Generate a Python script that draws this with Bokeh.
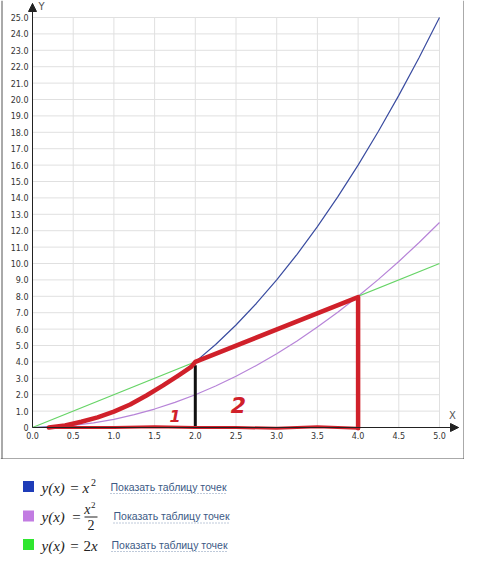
from bokeh.plotting import figure
from bokeh.models import Range1d, FixedTicker, Arrow, NormalHead, Label, Span
from bokeh.layouts import column
from bokeh.embed import file_html
from bokeh.resources import INLINE
from bokeh.core.properties import value

# ---------------- data ----------------
X_TICKS = [0.0, 0.5, 1.0, 1.5, 2.0, 2.5, 3.0, 3.5, 4.0, 4.5, 5.0]
X_TICK_LABELS = ["0.0", "0.5", "1.0", "1.5", "2.0", "2.5", "3.0", "3.5", "4.0", "4.5", "5.0"]
Y_TICKS = [0, 1, 2, 3, 4, 5, 6, 7, 8, 9, 10, 11, 12, 13, 14, 15, 16, 17, 18, 19, 20, 21, 22, 23, 24, 25]
Y_TICK_LABELS = ["0", "1.0", "2.0", "3.0", "4.0", "5.0", "6.0", "7.0", "8.0", "9.0", "10.0",
                 "11.0", "12.0", "13.0", "14.0", "15.0", "16.0", "17.0", "18.0", "19.0", "20.0",
                 "21.0", "22.0", "23.0", "24.0", "25.0"]

CURVE_X = [0.0, 0.25, 0.5, 0.75, 1.0, 1.25, 1.5, 1.75, 2.0, 2.25, 2.5, 2.75, 3.0,
           3.25, 3.5, 3.75, 4.0, 4.25, 4.5, 4.75, 5.0]
SQUARE_Y = [0.0, 0.0625, 0.25, 0.5625, 1.0, 1.5625, 2.25, 3.0625, 4.0, 5.0625, 6.25,
            7.5625, 9.0, 10.5625, 12.25, 14.0625, 16.0, 18.0625, 20.25, 22.5625, 25.0]
HALF_Y = [0.0, 0.03125, 0.125, 0.28125, 0.5, 0.78125, 1.125, 1.53125, 2.0, 2.53125, 3.125,
          3.78125, 4.5, 5.28125, 6.125, 7.03125, 8.0, 9.03125, 10.125, 11.28125, 12.5]
LINE_X = [0.0, 5.0]
LINE_Y = [0.0, 10.0]

# hand-drawn red outline of the two areas
RED_PATH_X = [0.2, 0.4, 0.6, 0.8, 1.0, 1.2, 1.4, 1.6, 1.8, 1.95, 2.0, 4.0, 4.0]
RED_PATH_Y = [0.0, 0.12, 0.35, 0.62, 0.97, 1.4, 1.95, 2.55, 3.2, 3.7, 4.0, 7.95, -0.05]
RED_BASE_X = [4.0, 3.5, 3.0, 2.5, 2.0, 1.5, 1.0, 0.5, 0.2]
RED_BASE_Y = [-0.05, 0.05, -0.05, 0.0, 0.0, 0.05, 0.0, 0.0, 0.0]
BLACK_X = [2.0, 2.0]
BLACK_Y = [0.0, 3.8]
AREA_LABELS = ["1", "2"]
AREA_LABEL_X = [1.75, 2.53]
AREA_LABEL_Y = [0.7, 1.4]

LEGEND_COLORS = ["#1e3cb8", "#c27ce2", "#2fe62f"]
LINK_TEXT = "Показать таблицу точек"

# ---------------- layout constants (pixels) ----------------
CW, CH = 464, 459
X0PX, SX = 32, 81.4
Y0PX, SY = 427, 16.4
x_start = -X0PX / SX
x_end = (CW - X0PX) / SX
y_start = -(CH - Y0PX) / SY
y_end = Y0PX / SY

p = figure(width=CW, height=CH, x_range=Range1d(x_start, x_end), y_range=Range1d(y_start, y_end),
           output_backend="svg", toolbar_location=None, min_border=0)
p.min_border_left = p.min_border_right = p.min_border_top = p.min_border_bottom = 0
p.outline_line_color = None
p.xgrid.visible = False
p.ygrid.visible = False
p.background_fill_color = "white"
p.border_fill_color = "white"

# grid lines from tick lists
p.segment(x0=X_TICKS[1:], y0=[Y_TICKS[0]] * (len(X_TICKS) - 1), x1=X_TICKS[1:],
          y1=[Y_TICKS[-1]] * (len(X_TICKS) - 1), line_color="#e0e0e0", line_width=1)
p.segment(x0=[X_TICKS[0]] * (len(Y_TICKS) - 1), y0=Y_TICKS[1:], x1=[X_TICKS[-1]] * (len(Y_TICKS) - 1),
          y1=Y_TICKS[1:], line_color="#e0e0e0", line_width=1)

for ax, ticks, labels in ((p.xaxis, X_TICKS, X_TICK_LABELS), (p.yaxis, Y_TICKS, Y_TICK_LABELS)):
    ax.fixed_location = 0
    ax.ticker = FixedTicker(ticks=ticks)
    ax.major_label_overrides = dict(zip(ticks, labels))
    ax.major_tick_out = 0
    ax.major_tick_in = 0
    ax.minor_tick_out = 0
    ax.minor_tick_in = 0
    ax.axis_line_color = "#222222"
    ax.major_label_text_font = "DejaVu Sans"
    ax.major_label_text_font_size = "8px"
    ax.major_label_text_color = "#333333"
    ax.major_label_standoff = 4

X_TIP = (458 - X0PX) / SX
Y_TIP = (Y0PX - 3) / SY
p.xaxis.bounds = (0, X_TIP)
p.yaxis.bounds = (0, Y_TIP)

p.add_layout(Arrow(end=NormalHead(size=8, fill_color="#222222", line_color="#222222"),
                   x_start=X_TIP - 0.2, y_start=0, x_end=X_TIP, y_end=0, line_color="#222222"))
p.add_layout(Arrow(end=NormalHead(size=8, fill_color="#222222", line_color="#222222"),
                   x_start=0, y_start=Y_TIP - 1, x_end=0, y_end=Y_TIP, line_color="#222222"))
p.add_layout(Label(x=(452 - X0PX) / SX, y=(Y0PX - 415) / SY, text="X", text_align="center",
                   text_baseline="middle", text_font_size="10px", text_color="#555555",
                   text_font="DejaVu Sans"))
p.add_layout(Label(x=(41 - X0PX) / SX, y=(Y0PX - 6) / SY, text="Y", text_align="center",
                   text_baseline="middle", text_font_size="10px", text_color="#555555",
                   text_font="DejaVu Sans"))

# box border (left, right, bottom)
for loc, dim in ((x_start + 1.5 / SX, "height"), (x_start + 463.5 / SX, "height"),
                 (y_start + 0.5 / SY, "width")):
    p.add_layout(Span(location=loc, dimension=dim, line_color="#555555", line_width=1))

# curves
p.line(CURVE_X, SQUARE_Y, line_color="#3a4ca0", line_width=1.2)
p.line(CURVE_X, HALF_Y, line_color="#b784d8", line_width=1.2)
p.line(LINE_X, LINE_Y, line_color="#66d466", line_width=1.2)

# hand-drawn annotation
p.line(BLACK_X, BLACK_Y, line_color="#111111", line_width=3)
p.line(RED_PATH_X, RED_PATH_Y, line_color="#d0202a", line_width=4.5, line_join="round", line_cap="round")
p.line(RED_BASE_X, RED_BASE_Y, line_color="#d0202a", line_width=3, line_join="round", line_cap="round")
p.text(x=AREA_LABEL_X, y=AREA_LABEL_Y, text=AREA_LABELS, text_color="#d0202a",
       text_font=value("DejaVu Sans"), text_font_style="bold italic",
       text_font_size=["16px", "22px"], text_align="center", text_baseline="middle")

# ---------------- legend ----------------
LH = 103
lg = figure(width=CW, height=LH, x_range=Range1d(0, CW), y_range=Range1d(LH, 0),
            output_backend="svg", toolbar_location=None, min_border=0,
            x_axis_location=None, y_axis_location=None)
lg.min_border_left = lg.min_border_right = lg.min_border_top = lg.min_border_bottom = 0
lg.outline_line_color = None
lg.xgrid.visible = False
lg.ygrid.visible = False

ROW_Y = [27, 56.5, 85]
lg.rect(x=[28, 28, 28], y=ROW_Y, width=11, height=11, fill_color=LEGEND_COLORS, line_color=None)

MF = value("Liberation Serif")
lg.text(x=[41, 41, 41], y=[r + 1 for r in ROW_Y], text=["y(x)"] * 3, text_font=MF,
        text_font_style="italic", text_font_size="15px", text_baseline="middle", text_color="#222222")
lg.text(x=[74, 76, 74], y=[r + 1 for r in ROW_Y], text=["="] * 3, text_font=MF,
        text_font_size="15px", text_baseline="middle", text_align="center", text_color="#222222")
# row 1: x^2
lg.text(x=[82], y=[ROW_Y[0] + 1], text=["x"], text_font=MF, text_font_style="italic",
        text_font_size="15px", text_baseline="middle", text_color="#222222")
lg.text(x=[90.5], y=[ROW_Y[0] - 4], text=["2"], text_font=MF,
        text_font_size="10px", text_baseline="middle", text_color="#222222")
# row 2: x^2 / 2
lg.text(x=[90], y=[ROW_Y[1] - 7], text=["x"], text_font=MF, text_font_style="italic",
        text_font_size="14px", text_baseline="middle", text_align="right", text_color="#222222")
lg.text(x=[90.5], y=[ROW_Y[1] - 11], text=["2"], text_font=MF,
        text_font_size="9px", text_baseline="middle", text_color="#222222")
lg.segment(x0=[84], y0=[ROW_Y[1] + 1], x1=[97], y1=[ROW_Y[1] + 1], line_color="#222222", line_width=1)
lg.text(x=[90.5], y=[ROW_Y[1] + 9], text=["2"], text_font=MF,
        text_font_size="14px", text_baseline="middle", text_align="center", text_color="#222222")
# row 3: 2x
lg.text(x=[83], y=[ROW_Y[2] + 1], text=["2"], text_font=MF,
        text_font_size="15px", text_baseline="middle", text_color="#222222")
lg.text(x=[90.5], y=[ROW_Y[2] + 1], text=["x"], text_font=MF, text_font_style="italic",
        text_font_size="15px", text_baseline="middle", text_color="#222222")

LINK_X = [110, 113, 111]
lg.text(x=LINK_X, y=ROW_Y, text=[LINK_TEXT] * 3, text_font=value("Liberation Sans"),
        text_font_size="10.5px", text_baseline="middle", text_color="#3c5a85")
lg.segment(x0=LINK_X, y0=[r + 7 for r in ROW_Y], x1=[x + 117 for x in LINK_X],
           y1=[r + 7 for r in ROW_Y], line_color="#7f94b4", line_width=1, line_dash="1 2")

layout = column(p, lg, spacing=0)
open("out.html", "w").write(file_html(layout, INLINE))
